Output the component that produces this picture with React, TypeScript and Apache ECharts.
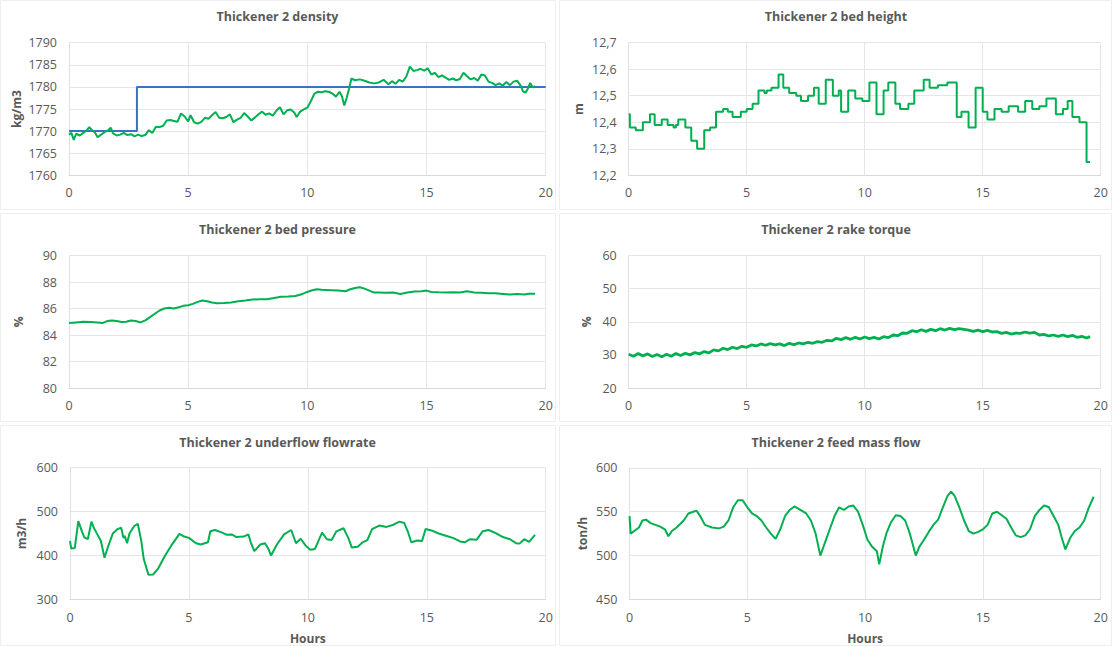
import React, { useEffect, useRef } from "react";
import * as echarts from "echarts";

const titles = [
  "Thickener 2 density",
  "Thickener 2 bed height",
  "Thickener 2 bed pressure",
  "Thickener 2 rake torque",
  "Thickener 2 underflow flowrate",
  "Thickener 2 feed mass flow",
];
const yNames = ["kg/m3", "m", "%", "%", "m3/h", "ton/h"];
const xName = "Hours";
const yMin = [1760, 12.2, 80, 20, 300, 450];
const yMax = [1790, 12.7, 90, 60, 600, 600];
const yStep = [5, 0.1, 2, 10, 100, 50];
const xMin = 0;
const xMax = 20;
const xStep = 5;

// [hours, kg/m3]
const densityData: [number, number][] = [
  [0, 1769.2], [0.1, 1769.6], [0.2, 1768.0], [0.3, 1769.4], [0.45, 1769.0], [0.6, 1769.6],
  [0.75, 1770.2], [0.85, 1770.9], [0.95, 1770.3], [1.1, 1769.6], [1.2, 1768.6], [1.35, 1769.2],
  [1.5, 1769.8], [1.65, 1770.2], [1.75, 1770.8], [1.85, 1769.5], [2.0, 1769.0], [2.15, 1769.2],
  [2.3, 1769.6], [2.45, 1769.1], [2.6, 1769.3], [2.75, 1768.8], [2.9, 1769.2], [3.05, 1768.9],
  [3.2, 1769.1], [3.35, 1770.2], [3.5, 1769.6], [3.65, 1771.0], [3.8, 1770.9], [3.95, 1771.2],
  [4.1, 1772.4], [4.25, 1772.5], [4.4, 1772.3], [4.55, 1772.1], [4.7, 1774.0], [4.85, 1773.3],
  [5.0, 1772.2], [5.1, 1773.6], [5.25, 1772.0], [5.4, 1771.7], [5.55, 1772.1], [5.7, 1773.0],
  [5.85, 1772.8], [6.0, 1773.6], [6.15, 1774.3], [6.3, 1773.0], [6.45, 1772.9], [6.6, 1773.2],
  [6.75, 1773.8], [6.9, 1772.0], [7.05, 1772.6], [7.2, 1773.0], [7.35, 1774.1], [7.5, 1773.3],
  [7.65, 1772.4], [7.8, 1773.1], [7.95, 1773.8], [8.1, 1774.4], [8.25, 1773.7], [8.4, 1774.0],
  [8.55, 1773.5], [8.7, 1774.6], [8.85, 1775.4], [9.0, 1773.8], [9.15, 1774.7], [9.3, 1774.9],
  [9.45, 1774.2], [9.55, 1773.2], [9.7, 1774.4], [9.85, 1774.9], [10.0, 1775.3], [10.15, 1776.8],
  [10.3, 1778.5], [10.45, 1778.9], [10.6, 1778.8], [10.75, 1779.0], [10.9, 1778.9], [11.05, 1778.5],
  [11.2, 1777.8], [11.35, 1778.9], [11.45, 1777.9], [11.55, 1775.8], [11.65, 1777.5], [11.75, 1779.6],
  [11.85, 1781.9], [12.0, 1781.5], [12.2, 1781.7], [12.4, 1781.4], [12.6, 1781.0], [12.8, 1780.8],
  [13.0, 1781.0], [13.2, 1781.6], [13.4, 1780.6], [13.55, 1781.3], [13.7, 1780.7], [13.85, 1781.6],
  [14.0, 1781.2], [14.15, 1782.3], [14.3, 1784.6], [14.45, 1783.6], [14.6, 1783.8], [14.75, 1784.1],
  [14.9, 1783.7], [15.05, 1784.2], [15.2, 1782.8], [15.35, 1783.2], [15.5, 1782.2], [15.65, 1782.6],
  [15.8, 1782.1], [15.95, 1781.6], [16.1, 1781.9], [16.25, 1781.5], [16.4, 1781.8], [16.55, 1783.2],
  [16.7, 1782.4], [16.85, 1781.7], [17.0, 1782.0], [17.15, 1781.4], [17.3, 1782.8], [17.45, 1782.6],
  [17.6, 1781.2], [17.75, 1780.9], [17.9, 1780.4], [18.05, 1780.8], [18.2, 1780.3], [18.35, 1781.1],
  [18.5, 1780.4], [18.65, 1781.2], [18.8, 1781.4], [18.95, 1780.3], [19.05, 1779.0], [19.15, 1778.7],
  [19.25, 1779.6], [19.35, 1780.9], [19.45, 1779.9], [19.55, 1780.2],
];

// density setpoint [hours, kg/m3]
const setpointData: [number, number][] = [
  [0, 1770], [2.85, 1770], [2.85, 1780], [20, 1780],
];

// bed height steps [start hour, m]
const bedHeightData: [number, number][] = [
  [0, 12.43], [0.05, 12.38], [0.3, 12.37], [0.6, 12.4], [0.9, 12.43], [1.1, 12.39],
  [1.4, 12.41], [1.65, 12.39], [1.9, 12.38], [2.0, 12.39], [2.1, 12.41], [2.4, 12.38],
  [2.65, 12.33], [2.9, 12.3], [3.2, 12.37], [3.45, 12.38], [3.7, 12.44], [4.0, 12.45],
  [4.2, 12.44], [4.4, 12.42], [4.75, 12.44], [5.0, 12.45], [5.25, 12.47], [5.5, 12.52],
  [5.75, 12.51], [5.85, 12.52], [6.05, 12.53], [6.35, 12.58], [6.55, 12.53], [6.8, 12.51],
  [7.1, 12.5], [7.3, 12.48], [7.6, 12.5], [7.85, 12.53], [8.05, 12.47], [8.35, 12.56],
  [8.65, 12.5], [8.9, 12.52], [9.0, 12.44], [9.3, 12.52], [9.6, 12.49], [9.9, 12.48],
  [10.2, 12.55], [10.5, 12.43], [10.8, 12.52], [11.0, 12.55], [11.3, 12.47], [11.5, 12.45],
  [11.85, 12.47], [12.1, 12.52], [12.5, 12.56], [12.75, 12.53], [13.1, 12.54], [13.5, 12.55],
  [13.9, 12.42], [14.1, 12.44], [14.4, 12.38], [14.7, 12.53], [15.0, 12.44], [15.2, 12.41],
  [15.5, 12.45], [15.8, 12.44], [16.1, 12.46], [16.5, 12.44], [16.8, 12.48], [17.1, 12.45],
  [17.4, 12.46], [17.7, 12.49], [18.1, 12.43], [18.4, 12.45], [18.6, 12.48], [18.8, 12.42],
  [19.1, 12.4], [19.4, 12.25], [19.55, 12.25],
];

// bed pressure [hours, %]
const pressureData: [number, number][] = [
  [0, 84.9], [0.3, 84.95], [0.6, 85.0], [0.9, 84.98], [1.2, 84.95], [1.4, 84.9], [1.6, 85.05],
  [1.8, 85.1], [2.0, 85.05], [2.2, 84.98], [2.4, 85.0], [2.6, 85.1], [2.8, 85.05], [3.0, 84.95],
  [3.2, 85.1], [3.4, 85.35], [3.6, 85.6], [3.8, 85.85], [4.0, 86.0], [4.2, 86.05], [4.4, 86.0],
  [4.6, 86.1], [4.8, 86.2], [5.0, 86.25], [5.2, 86.35], [5.4, 86.5], [5.6, 86.6], [5.8, 86.55],
  [6.0, 86.45], [6.2, 86.4], [6.5, 86.42], [6.8, 86.45], [7.1, 86.55], [7.4, 86.6], [7.7, 86.68],
  [8.0, 86.7], [8.3, 86.7], [8.6, 86.8], [8.9, 86.88], [9.2, 86.9], [9.5, 86.95], [9.8, 87.1],
  [10.0, 87.25], [10.2, 87.38], [10.4, 87.45], [10.6, 87.42], [10.8, 87.4], [11.0, 87.38],
  [11.3, 87.35], [11.6, 87.3], [11.8, 87.45], [12.0, 87.55], [12.2, 87.6], [12.4, 87.5],
  [12.6, 87.35], [12.8, 87.2], [13.0, 87.2], [13.3, 87.18], [13.6, 87.2], [13.9, 87.1],
  [14.2, 87.2], [14.5, 87.28], [14.8, 87.3], [15.0, 87.35], [15.2, 87.25], [15.5, 87.22],
  [15.8, 87.2], [16.1, 87.22], [16.4, 87.2], [16.7, 87.3], [17.0, 87.2], [17.3, 87.18],
  [17.6, 87.15], [17.9, 87.15], [18.2, 87.1], [18.5, 87.05], [18.8, 87.1], [19.1, 87.05],
  [19.3, 87.12], [19.55, 87.12],
];

// rake torque [hours, %]
const torqueData: [number, number][] = [
  [0, 30.2], [0.2, 29.6], [0.4, 30.4], [0.6, 29.7], [0.8, 30.3], [1.0, 29.5], [1.2, 30.1],
  [1.4, 29.4], [1.6, 30.2], [1.8, 29.6], [2.0, 30.4], [2.2, 29.8], [2.4, 30.5], [2.6, 30.0],
  [2.8, 30.7], [3.0, 30.3], [3.2, 31.0], [3.4, 30.6], [3.6, 31.5], [3.8, 31.2], [4.0, 32.0],
  [4.2, 31.6], [4.4, 32.3], [4.6, 31.9], [4.8, 32.6], [5.0, 32.3], [5.2, 33.0], [5.4, 32.7],
  [5.6, 33.3], [5.8, 32.9], [6.0, 33.4], [6.2, 33.0], [6.4, 33.3], [6.6, 32.8], [6.8, 33.5],
  [7.0, 33.1], [7.2, 33.6], [7.4, 33.3], [7.6, 33.8], [7.8, 33.5], [8.0, 34.0], [8.2, 33.8],
  [8.4, 34.4], [8.6, 34.2], [8.8, 35.0], [9.0, 34.6], [9.2, 35.2], [9.4, 34.7], [9.6, 35.3],
  [9.8, 34.8], [10.0, 35.4], [10.2, 34.9], [10.4, 35.3], [10.6, 34.8], [10.8, 35.5], [11.0, 35.2],
  [11.2, 36.0], [11.4, 35.8], [11.6, 36.6], [11.8, 36.5], [12.0, 37.3], [12.2, 37.0], [12.4, 37.6],
  [12.6, 37.1], [12.8, 37.7], [13.0, 37.3], [13.2, 37.9], [13.4, 37.5], [13.6, 38.0], [13.8, 37.6],
  [14.0, 37.9], [14.2, 37.7], [14.4, 37.5], [14.6, 37.1], [14.8, 37.5], [15.0, 37.0], [15.2, 37.4],
  [15.4, 36.9], [15.6, 37.0], [15.8, 36.5], [16.0, 36.8], [16.2, 36.3], [16.4, 36.6], [16.6, 36.5],
  [16.8, 36.9], [17.0, 36.6], [17.2, 36.8], [17.4, 36.0], [17.6, 36.2], [17.8, 35.7], [18.0, 36.0],
  [18.2, 35.6], [18.4, 36.0], [18.6, 35.5], [18.8, 35.9], [19.0, 35.3], [19.2, 35.6], [19.4, 35.1],
  [19.55, 35.5],
];

// underflow flowrate [hours, m3/h]
const underflowData: [number, number][] = [
  [0, 433], [0.05, 416], [0.2, 417], [0.35, 478], [0.5, 455], [0.6, 441], [0.75, 437], [0.9, 477],
  [1.0, 463], [1.15, 448], [1.3, 433], [1.45, 395], [1.6, 420], [1.8, 450], [2.0, 460], [2.15, 463],
  [2.25, 440], [2.3, 445], [2.4, 428], [2.5, 450], [2.7, 467], [2.85, 472], [3.0, 432], [3.1, 392],
  [3.3, 356], [3.5, 357], [3.7, 370], [4.0, 400], [4.3, 426], [4.6, 449], [4.8, 443], [5.0, 440],
  [5.3, 428], [5.5, 425], [5.8, 430], [5.9, 455], [6.1, 458], [6.4, 452], [6.6, 447], [6.8, 448],
  [7.0, 442], [7.3, 443], [7.5, 448], [7.6, 430], [7.75, 410], [8.0, 425], [8.2, 428], [8.35, 414],
  [8.45, 400], [8.7, 425], [9.0, 448], [9.3, 458], [9.5, 428], [9.7, 438], [9.9, 423], [10.1, 413],
  [10.3, 415], [10.5, 440], [10.6, 452], [10.8, 437], [11.0, 435], [11.2, 455], [11.5, 462],
  [11.7, 440], [11.85, 418], [12.1, 420], [12.3, 430], [12.5, 435], [12.7, 460], [13.0, 468],
  [13.3, 465], [13.6, 470], [13.85, 477], [14.05, 474], [14.2, 455], [14.35, 430], [14.6, 434],
  [14.8, 433], [14.95, 460], [15.2, 457], [15.5, 450], [15.8, 445], [16.1, 440], [16.4, 432],
  [16.6, 430], [16.8, 437], [17.1, 436], [17.35, 455], [17.6, 458], [17.9, 451], [18.2, 442],
  [18.5, 437], [18.75, 428], [18.9, 427], [19.1, 437], [19.3, 431], [19.55, 447],
];

// feed mass flow [hours, ton/h]
const feedData: [number, number][] = [
  [0, 545], [0.05, 525], [0.2, 528], [0.4, 532], [0.55, 540], [0.7, 541], [0.9, 537], [1.1, 535],
  [1.3, 533], [1.5, 530], [1.65, 522], [1.8, 528], [2.0, 532], [2.3, 540], [2.5, 548], [2.7, 550],
  [2.85, 551], [3.0, 545], [3.2, 535], [3.5, 532], [3.8, 531], [4.0, 533], [4.2, 540], [4.4, 555],
  [4.6, 563], [4.8, 563], [5.0, 555], [5.2, 548], [5.4, 545], [5.6, 540], [5.8, 532], [6.0, 525],
  [6.2, 519], [6.4, 530], [6.6, 545], [6.8, 552], [7.0, 556], [7.2, 553], [7.5, 548], [7.7, 540],
  [7.9, 525], [8.1, 500], [8.3, 515], [8.5, 530], [8.7, 545], [8.9, 555], [9.1, 552], [9.3, 556],
  [9.5, 557], [9.7, 550], [9.9, 535], [10.1, 518], [10.3, 510], [10.5, 505], [10.6, 490],
  [10.75, 510], [10.9, 525], [11.1, 538], [11.3, 546], [11.5, 545], [11.7, 540], [11.9, 525],
  [12.05, 510], [12.15, 500], [12.3, 510], [12.5, 518], [12.7, 527], [12.9, 535], [13.1, 541],
  [13.3, 555], [13.5, 568], [13.65, 573], [13.8, 568], [14.0, 555], [14.2, 540], [14.4, 528],
  [14.6, 525], [14.8, 527], [15.0, 530], [15.2, 535], [15.4, 548], [15.6, 550], [15.8, 546],
  [16.0, 542], [16.2, 532], [16.4, 523], [16.6, 521], [16.8, 523], [17.0, 530], [17.2, 545],
  [17.4, 552], [17.6, 557], [17.8, 555], [18.0, 545], [18.2, 535], [18.35, 520], [18.5, 507],
  [18.7, 520], [18.9, 528], [19.1, 532], [19.3, 540], [19.5, 555], [19.7, 567],
];

const GREEN = "#00B050";
const BLUE = "#3B72C0";
const TEXT = "#595959";
const FONT = "'Open Sans', 'Noto Sans', sans-serif";

export default function App() {
  const ref = useRef<HTMLDivElement>(null);

  useEffect(() => {
    if (!ref.current) return;
    const chart = echarts.init(ref.current, null, { renderer: "svg" });

    const grids = [
      { left: 69, top: 42.7, width: 476.7, height: 132.6 },
      { left: 628.7, top: 42.7, width: 472, height: 132.6 },
      { left: 69, top: 255.5, width: 476.7, height: 132.5 },
      { left: 628.7, top: 255.5, width: 472, height: 132.5 },
      { left: 70, top: 467.5, width: 475.7, height: 132 },
      { left: 629.5, top: 467.8, width: 471.2, height: 131.7 },
    ];
    const titleCenters = [
      [277.5, 10], [836, 10], [277.5, 223], [836, 223], [277.5, 436], [836, 436],
    ];
    const nameGaps = [47, 44, 45, 36, 43, 41];

    const fmt = (i: number) => (v: number) =>
      i === 1 ? v.toFixed(1).replace(".", ",") : String(Math.round(v));

    const box = (x: number, y: number, w: number, h: number) => ({
      type: "rect",
      silent: true,
      shape: { x, y, width: w, height: h },
      style: { fill: "none", stroke: "#eeeeee", lineWidth: 1 },
    });

    const option: any = {
      animation: false,
      backgroundColor: "#ffffff",
      textStyle: { fontFamily: FONT },
      title: titles.map((t, i) => ({
        text: t,
        left: titleCenters[i][0],
        top: titleCenters[i][1],
        textAlign: "center",
        padding: 0,
        textStyle: { fontFamily: FONT, fontSize: 12.5, fontWeight: "bold", color: TEXT },
      })),
      graphic: [
        box(0.5, 0.5, 555, 209),
        box(559.5, 0.5, 552, 209),
        box(0.5, 213.5, 555, 208),
        box(559.5, 213.5, 552, 208),
        box(0.5, 425.5, 555, 220),
        box(559.5, 425.5, 552, 220),
      ],
      grid: grids,
      xAxis: grids.map((_, i) => ({
        type: "value",
        gridIndex: i,
        min: xMin,
        max: xMax,
        interval: xStep,
        name: i >= 4 ? xName : "",
        nameLocation: "middle",
        nameGap: 33,
        nameTextStyle: { fontFamily: FONT, fontSize: 12, fontWeight: "bold", color: TEXT },
        axisLine: { show: true, lineStyle: { color: "#d9d9d9", width: 1 } },
        axisTick: { show: false },
        axisLabel: { margin: 11, fontFamily: FONT, fontSize: 12.5, color: TEXT },
        splitLine: { show: true, lineStyle: { color: "#e6e6e6", width: 1 } },
      })),
      yAxis: grids.map((_, i) => ({
        type: "value",
        gridIndex: i,
        min: yMin[i],
        max: yMax[i],
        interval: yStep[i],
        name: yNames[i],
        nameLocation: "middle",
        nameGap: nameGaps[i],
        nameTextStyle: { fontFamily: FONT, fontSize: 12, fontWeight: "bold", color: TEXT },
        axisLine: { show: true, lineStyle: { color: "#e0e0e0", width: 1 } },
        axisTick: { show: false },
        axisLabel: {
          margin: 12,
          fontFamily: FONT,
          fontSize: 12.5,
          color: TEXT,
          formatter: fmt(i),
        },
        splitLine: { show: true, lineStyle: { color: "#e6e6e6", width: 1 } },
      })),
      series: [
        { type: "line", xAxisIndex: 0, yAxisIndex: 0, data: setpointData, showSymbol: false, lineStyle: { color: BLUE, width: 2 }, z: 2 },
        { type: "line", xAxisIndex: 0, yAxisIndex: 0, data: densityData, showSymbol: false, lineStyle: { color: GREEN, width: 2 }, z: 3 },
        { type: "line", xAxisIndex: 1, yAxisIndex: 1, data: bedHeightData, step: "end", showSymbol: false, lineStyle: { color: GREEN, width: 2 } },
        { type: "line", xAxisIndex: 2, yAxisIndex: 2, data: pressureData, showSymbol: false, lineStyle: { color: GREEN, width: 2 } },
        { type: "line", xAxisIndex: 3, yAxisIndex: 3, data: torqueData, showSymbol: false, lineStyle: { color: GREEN, width: 2.8 } },
        { type: "line", xAxisIndex: 4, yAxisIndex: 4, data: underflowData, showSymbol: false, lineStyle: { color: GREEN, width: 2 } },
        { type: "line", xAxisIndex: 5, yAxisIndex: 5, data: feedData, showSymbol: false, lineStyle: { color: GREEN, width: 2 } },
      ],
    };

    chart.setOption(option);
    return () => chart.dispose();
  }, []);

  return (
    <div
      ref={ref}
      style={{ position: "fixed", left: 0, top: 0, width: 1112, height: 646, background: "#fff" }}
    />
  );
}
